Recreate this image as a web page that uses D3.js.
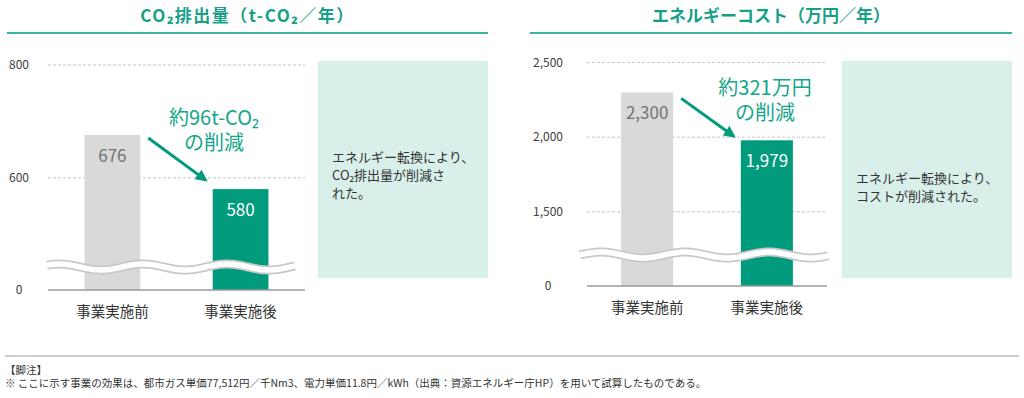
<!DOCTYPE html>
<html lang="ja">
<head>
<meta charset="utf-8">
<title>CO2排出量とエネルギーコスト</title>
<script src="https://d3js.org/d3.v7.min.js"></script>
<style>
  body { margin: 0; background: #fff; }
  svg text { font-family: "Noto Sans CJK JP", "Noto Sans", sans-serif; }
</style>
</head>
<body>
<script>
// data
var categories = ["事業実施前", "事業実施後"];
var co2Values = [676, 580];
var costValues = [2300, 1979];
var co2Ticks = [0, 600, 800];
var costTicks = [0, 1500, 2000, 2500];
var co2Reduction = ["約96t-CO₂", "の削減"];
var costReduction = ["約321万円", "の削減"];
var co2Note = ["エネルギー転換により、", "CO₂排出量が削減さ", "れた。"];
var costNote = ["エネルギー転換により、", "コストが削減された。"];
var footnotes = ["【脚注】", "※ ここに示す事業の効果は、都市ガス単価77,512円／千Nm3、電力単価11.8円／kWh（出典：資源エネルギー庁HP）を用いて試算したものである。"];

var w = 1024, h = 398;
var teal = "#009b7d", titleTeal = "#17a088", grayBar = "#d9d9d9";

var svg = d3.select("body").append("svg")
  .attr("width", w).attr("height", h);

// arrow marker
svg.append("defs").append("marker")
  .attr("id", "arrowhead")
  .attr("viewBox", "0 0 10 10")
  .attr("refX", 8).attr("refY", 5)
  .attr("markerWidth", 4).attr("markerHeight", 4)
  .attr("orient", "auto")
  .append("path").attr("d", "M0,0 L10,5 L0,10 Z").attr("fill", teal);

function drawChart(c) {
  var g = svg.append("g");

  // title + underline
  g.append("text")
    .attr("x", (c.titleX0 + c.titleX1) / 2).attr("y", 22)
    .attr("text-anchor", "middle")
    .attr("font-size", 17).attr("font-weight", "bold")
    .attr("letter-spacing", c.titleSpacing)
    .attr("fill", titleTeal)
    .text(c.title);
  g.append("line")
    .attr("x1", c.titleX0).attr("x2", c.titleX1)
    .attr("y1", 33).attr("y2", 33)
    .attr("stroke", "#3db59e").attr("stroke-width", 2);

  var x = d3.scaleBand().domain(categories)
    .range([c.x0, c.x1]).paddingInner(0.565).paddingOuter(0.285);
  var y = d3.scaleLinear().domain(c.domain).range(c.range);

  // gridlines (non-zero ticks)
  g.selectAll(".grid").data(c.ticks.filter(function (d) { return d > 0; }))
    .enter().append("line")
    .attr("x1", c.x0).attr("x2", c.x1)
    .attr("y1", function (d) { return y(d); })
    .attr("y2", function (d) { return y(d); })
    .attr("stroke", "#c4c4c4").attr("stroke-dasharray", "3,2");

  // y axis labels
  var ax = g.append("g")
    .attr("transform", "translate(" + c.labelX + ",0)")
    .call(d3.axisLeft(y).tickValues(c.ticks).tickSize(0).tickFormat(d3.format(",")));
  ax.select(".domain").remove();
  ax.selectAll("text")
    .attr("x", 0).attr("text-anchor", "middle")
    .attr("font-size", 12).attr("fill", "#404040")
    .attr("font-family", "'Noto Sans', sans-serif");

  // bars
  g.selectAll(".bar").data(c.values).enter().append("rect")
    .attr("x", function (d, i) { return x(categories[i]); })
    .attr("width", x.bandwidth())
    .attr("y", function (d) { return y(d); })
    .attr("height", function (d) { return y(0) - y(d); })
    .attr("fill", function (d, i) { return i === 0 ? grayBar : teal; });

  // bar value labels
  g.selectAll(".val").data(c.values).enter().append("text")
    .attr("x", function (d, i) { return x(categories[i]) + x.bandwidth() / 2; })
    .attr("y", function (d) { return y(d) + 27; })
    .attr("text-anchor", "middle")
    .attr("font-size", 17)
    .attr("font-family", "'Noto Sans', sans-serif")
    .attr("fill", function (d, i) { return i === 0 ? "#737373" : "#fff"; })
    .text(d3.format(","));

  // broken-axis wave
  var pts = [];
  for (var px = c.waveX0; px <= c.waveX1; px += 2) {
    pts.push([px, c.waveY - 3 * Math.sin(2 * Math.PI * (px - c.waveX0 + c.wavePhase) / 84)]);
  }
  var wave = d3.line().curve(d3.curveBasis);
  g.append("path").attr("d", wave(pts))
    .attr("fill", "none").attr("stroke", "#c8c8c8").attr("stroke-width", 9);
  g.append("path").attr("d", wave(pts))
    .attr("fill", "none").attr("stroke", "#fff").attr("stroke-width", 5.5);

  // baseline
  g.append("line")
    .attr("x1", c.x0).attr("x2", c.x1)
    .attr("y1", y(0)).attr("y2", y(0))
    .attr("stroke", "#9a9a9a").attr("stroke-width", 1.5);

  // category labels
  g.selectAll(".cat").data(categories).enter().append("text")
    .attr("x", function (d) { return x(d) + x.bandwidth() / 2; })
    .attr("y", y(0) + 27)
    .attr("text-anchor", "middle")
    .attr("font-size", 14.5).attr("fill", "#333")
    .text(function (d) { return d; });

  // arrow
  g.append("line")
    .attr("x1", x(categories[0]) + x.bandwidth() + 8)
    .attr("y1", y(c.values[0]) + c.arrowDy[0])
    .attr("x2", x(categories[1]) - 7)
    .attr("y2", y(c.values[1]) + c.arrowDy[1])
    .attr("stroke", teal).attr("stroke-width", 3)
    .attr("marker-end", "url(#arrowhead)");

  // reduction annotation
  var a = g.append("text")
    .attr("x", c.annX).attr("y", c.annY)
    .attr("text-anchor", "middle")
    .attr("font-size", 20).attr("fill", "#14a68a");
  c.reduction.forEach(function (s, i) {
    a.append("tspan").attr("x", c.annX).attr("dy", i === 0 ? 0 : 25).text(s);
  });

  // note box
  g.append("rect")
    .attr("x", c.boxX).attr("y", 61)
    .attr("width", 170).attr("height", 217)
    .attr("fill", "#d9f0ea");
  var nt = g.append("text")
    .attr("x", c.boxX + 14).attr("y", c.noteY)
    .attr("font-size", 13).attr("fill", "#333");
  c.note.forEach(function (s, i) {
    nt.append("tspan").attr("x", c.boxX + 14).attr("dy", i === 0 ? 0 : 18).text(s);
  });
}

drawChart({
  title: "CO₂排出量（t-CO₂／年）", titleSpacing: 1.5,
  titleX0: 7, titleX1: 488,
  x0: 48, x1: 305, labelX: 19,
  values: co2Values, ticks: co2Ticks,
  domain: [0, 410, 800], range: [290, 285, 65],
  waveX0: 47, waveX1: 295, waveY: 267, wavePhase: 9,
  arrowDy: [3, -9],
  reduction: co2Reduction,
  annX: 214, annY: 125,
  boxX: 318, note: co2Note, noteY: 162
});

drawChart({
  title: "エネルギーコスト（万円／年）", titleSpacing: 0,
  titleX0: 530, titleX1: 1012,
  x0: 587, x1: 827, labelX: 548,
  values: costValues, ticks: costTicks,
  domain: [0, 1050, 2500], range: [286, 279, 62.5],
  waveX0: 580, waveX1: 828, waveY: 255, wavePhase: 0,
  arrowDy: [6, -4],
  reduction: costReduction,
  annX: 765, annY: 95,
  boxX: 842, note: costNote, noteY: 183
});

// footer
svg.append("line")
  .attr("x1", 5).attr("x2", 1019).attr("y1", 356).attr("y2", 356)
  .attr("stroke", "#bdbdbd").attr("stroke-width", 1.5);
var ft = svg.append("text")
  .attr("x", 5).attr("y", 374)
  .attr("font-size", 10.5).attr("fill", "#333");
footnotes.forEach(function (d, i) {
  ft.append("tspan").attr("x", 5).attr("dy", i === 0 ? 0 : 13).text(d);
});
</script>
</body>
</html>
